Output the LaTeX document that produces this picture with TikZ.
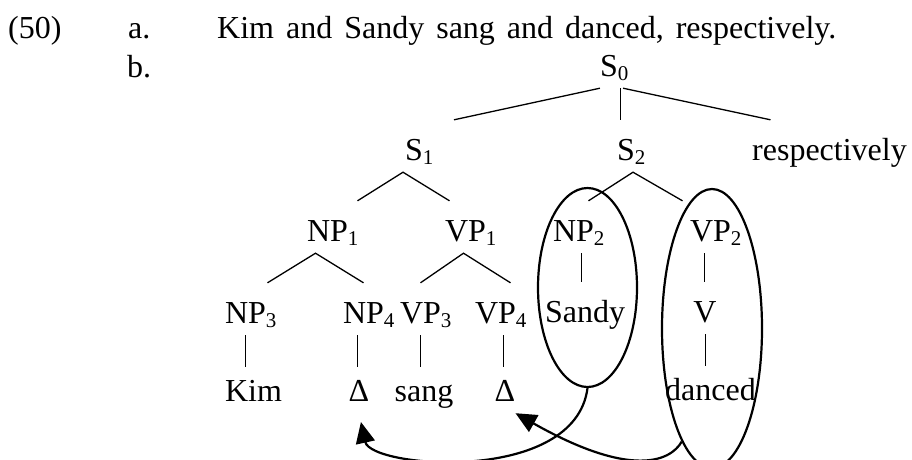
\documentclass[tikz,border=0pt]{standalone}
\usepackage{fontspec}
\setmainfont{Liberation Serif}
\usetikzlibrary{arrows.meta,shapes.geometric}
\tikzset{
    %Define style for tree labels
    cat/.style={
           anchor=base,
           inner xsep=0pt, inner ysep=6pt,
           text height=34pt, text depth=6pt},
    leaf/.style={
           anchor=base,
           inner xsep=0pt, inner ysep=6pt,
           text height=28pt, text depth=6pt},
    txt/.style={anchor=base west, inner sep=0pt},
    %Define style for the rings
    ring/.style={
           ellipse,
           draw=black, line width=2.2pt,
           inner sep=0pt},
    % Define line and arrow styles
    branch/.style={line width=1.3pt},
    pil/.style={
           -{Triangle[length=21pt,width=19pt]},
           line width=2.2pt}
}
\newcommand{\catsub}[2]{#1\rlap{\raisebox{-4pt}{\fontsize{21}{21}\selectfont #2}}}

\begin{document}
\begin{tikzpicture}[x=1pt,y=-1pt,font=\fontsize{32}{38}\selectfont]
\useasboundingbox (0,0) rectangle (912,459);
 %example lines
\node[txt] (num) at (8,38) {(50)};
\node[txt] (itema) at (128,38) {a.};
\node[txt] (sent) at (217,38) {\spaceskip=12pt\relax Kim and Sandy sang and danced, respectively.};
\node[txt] (itemb) at (127,77) {b.};
 %tree nodes
\node[cat] (s0) at (609,76) {\catsub{S}{0}};
\node[cat] (s1) at (414,160) {\catsub{S}{1}};
\node[cat] (s2) at (626,160) {\catsub{S}{2}};
\node[cat] (resp) at (829.5,160) {respectively};
\node[cat] (np1) at (327.5,241) {\catsub{NP}{1}};
\node[cat] (vp1) at (465.5,241) {\catsub{VP}{1}};
\node[cat] (np2) at (573.5,241) {\catsub{NP}{2}};
\node[cat] (vp2) at (710.5,241) {\catsub{VP}{2}};
\node[cat] (np3) at (245.5,323) {\catsub{NP}{3}};
\node[cat] (np4) at (363.5,323) {\catsub{NP}{4}};
\node[cat] (vp3) at (420.5,323) {\catsub{VP}{3}};
\node[cat] (vp4) at (495.5,323) {\catsub{VP}{4}};
\node[cat] (sandy) at (585,322) {Sandy};
\node[cat] (v) at (705,322) {V};
\node[leaf] (kim) at (253.5,401) {Kim};
\node[leaf] (gap1) at (359,401) {Δ};
\node[leaf] (sang) at (424,401) {sang};
\node[leaf] (gap2) at (505,401) {Δ};
\node[leaf] (danced) at (710.5,400) {danced};
 %rings
\node[ring, minimum width=99pt, minimum height=199pt] (npring) at (587.5,287.5) {};
\node[ring, minimum width=100pt, minimum height=279pt] (vpring) at (712,328.5) {};
 %branches
\draw[branch] (s0.south west) -- ([xshift=40pt]s1.north);
\draw[branch] ([xshift=11.5pt]s0.south) -- ([xshift=-5.5pt]s2.north);
\draw[branch] ([xshift=5pt]s0.south east) -- ([xshift=-59pt]resp.north);
\draw[branch] ([xshift=30pt]np1.north) -- ([xshift=-11pt]s1.south) -- ([xshift=-16pt]vp1.north);
\draw[branch] ([xshift=15pt]np2.north) -- ([xshift=7pt]s2.south) -- ([xshift=-28pt]vp2.north);
\draw[branch] ([xshift=22pt]np3.north) -- ([xshift=-12pt]np1.south) -- (np4.north);
\draw[branch] (vp3.north) -- ([xshift=-2pt]vp1.south) -- ([xshift=15pt]vp4.north);
\draw[branch] (np3.south) -- (np3.south |- kim.north);
\draw[branch] ([xshift=-6pt]np4.south) -- ([xshift=-6pt]np4.south |- gap1.north);
\draw[branch] (vp3.south) -- (vp3.south |- sang.north);
\draw[branch] ([xshift=8pt]vp4.south) -- ([xshift=8pt]vp4.south |- gap2.north);
\draw[branch] ([xshift=8pt]np2.south) -- ([xshift=8pt]np2.south |- sandy.north);
\draw[branch] ([xshift=-6pt]vp2.south) -- ([xshift=-6pt]vp2.south |- v.north);
\draw[branch] ([xshift=0.5pt]v.south) -- ([xshift=0.5pt]v.south |- danced.north);
 %arrows
\draw[pil, shorten >=9pt] (npring.south) .. controls (575,485) and (371,468) .. (gap1.south);
\draw[pil] (vpring.255) .. controls (670,462) and (630,478) .. (gap2.south east);
\end{tikzpicture}
\end{document}
